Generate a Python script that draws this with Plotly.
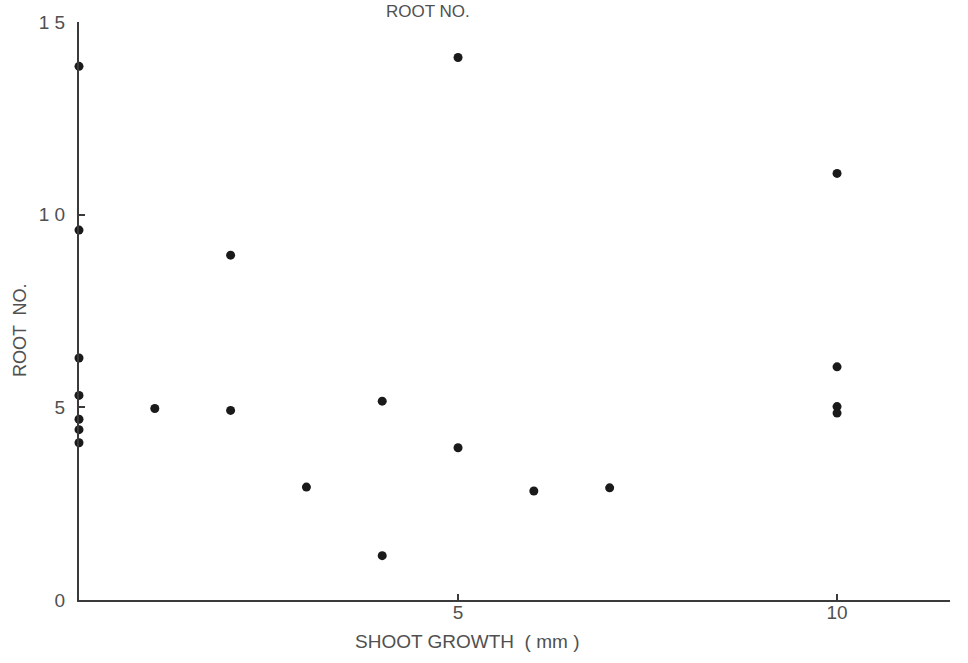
import plotly.graph_objects as go

# Shoot growth (mm) against root number for each explant
shoot_growth = [0, 0, 0, 0, 0, 0, 0,
                1, 2, 2, 3, 4, 4, 5, 5, 6, 7,
                10, 10, 10, 10]
root_no = [13.85, 9.6, 6.28, 5.31, 4.69, 4.42, 4.08,
           4.97, 8.95, 4.92, 2.93, 5.16, 1.15, 14.08, 3.95, 2.83, 2.91,
           11.07, 6.05, 5.02, 4.85]

x_ticks = [5, 10]
x_tick_text = ["5", "10"]
y_ticks = [0, 5, 10, 15]
y_tick_text = ["0", "5", "1 0", "1 5"]

ink = "#505050"
font_family = "Liberation Sans, Arial, sans-serif"

fig = go.Figure()
fig.add_trace(go.Scatter(
    x=shoot_growth, y=root_no, mode="markers",
    marker=dict(size=9, color="#1a1a1a", line=dict(width=0)),
    cliponaxis=False, showlegend=False,
))

fig.update_layout(
    width=968, height=663,
    margin=dict(l=79, r=18, t=22, b=63),
    paper_bgcolor="white", plot_bgcolor="white",
    font=dict(family=font_family, color=ink),
    xaxis=dict(
        range=[0, 11.49], showgrid=False, zeroline=False,
        showline=True, linecolor="#3a3a3a", linewidth=1.5,
        tickmode="array", tickvals=x_ticks, ticktext=x_tick_text,
        ticks="inside", ticklen=6, tickcolor="#3a3a3a", tickwidth=1.5,
        tickfont=dict(size=19, color=ink), ticklabelstandoff=-6,
    ),
    yaxis=dict(
        range=[0, 15], showgrid=False, zeroline=False,
        showline=True, linecolor="#3a3a3a", linewidth=2,
        tickmode="array", tickvals=y_ticks, ticktext=y_tick_text,
        ticks="inside", ticklen=6, tickcolor="#3a3a3a", tickwidth=1.5,
        tickfont=dict(size=19, color=ink), ticklabelstandoff=8,
    ),
    annotations=[
        dict(text="ROOT NO.", xref="paper", yref="paper",
             x=0.4007, y=1.019, xanchor="center", yanchor="middle",
             showarrow=False, font=dict(size=17, color=ink)),
        dict(text="SHOOT GROWTH  ( mm )", xref="paper", yref="paper",
             x=0.4455, y=-0.071, xanchor="center", yanchor="middle",
             showarrow=False, font=dict(size=19, color=ink)),
        dict(text="ROOT  NO.", xref="paper", yref="paper",
             x=-0.0677, y=0.467, xanchor="center", yanchor="middle",
             textangle=-90, showarrow=False, font=dict(size=18, color=ink)),
    ],
)

fig.write_html("out.html")
